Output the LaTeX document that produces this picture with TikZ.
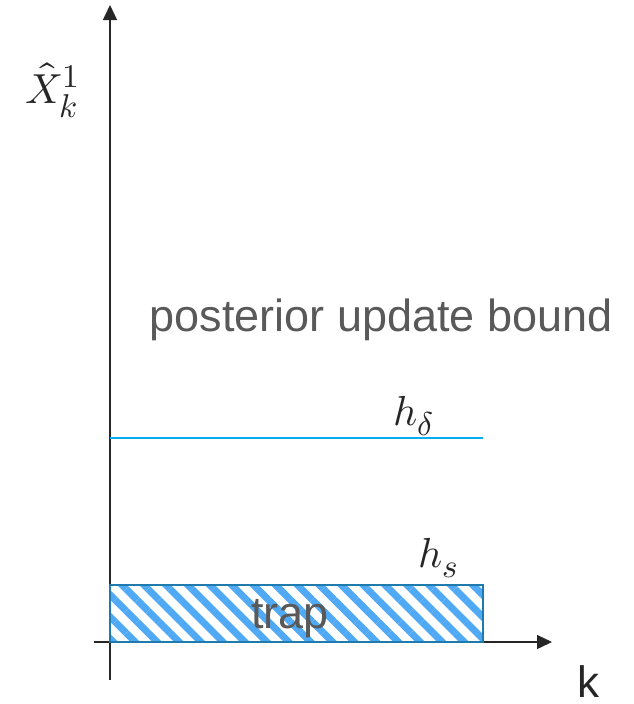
\documentclass[tikz,border=0pt]{standalone}
\usepackage{fontspec}
\usepackage{unicode-math}
\setmathfont{Latin Modern Math}
\setsansfont{Liberation Sans}
\DeclareMathSizes{42}{42}{33}{27}
\usetikzlibrary{arrows.meta,patterns.meta}
\definecolor{axisgray}{HTML}{262626}
\definecolor{textgray}{HTML}{595959}
\definecolor{deltablue}{HTML}{00B0F0}
\definecolor{trapedge}{HTML}{1F7AAE}
\definecolor{trapfill}{HTML}{4FA9F5}
\begin{document}
\begin{tikzpicture}[x=1pt,y=-1pt,
  axis/.style={draw=axisgray,line width=1.4pt,-{Triangle[length=15pt,width=14pt]}},
  sanslabel/.style={font=\sffamily\fontsize{45}{52}\selectfont,text=textgray,inner sep=0pt},
  blacklabel/.style={font=\sffamily\fontsize{44}{52}\selectfont,text=axisgray,inner sep=0pt},
  mathlabel/.style={font=\fontsize{42}{50}\selectfont,text=axisgray,inner sep=0pt,anchor=base west}]
\useasboundingbox (0,0) rectangle (634,704);
\coordinate (yb) at (110,680);
\coordinate (yt) at (110,5);
\coordinate (xl) at (94,642);
\coordinate (xr) at (552,642);
\draw[axis] (yb) -- (yt);
\draw[axis] (xl) -- (xr);
% trap box
\node[draw=trapedge,line width=2pt,outer sep=0pt,
  pattern={Lines[angle=-45,distance=15.5pt,line width=7pt]},pattern color=trapfill,
  minimum width=373pt,minimum height=57pt,inner sep=0pt] (trapbox) at (296.5,613.5) {};
\node[sanslabel,anchor=base] (trap) at (290,628) {trap};
% delta line
\coordinate (dl) at (110,438);
\coordinate (dr) at (483,438);
\draw[deltablue,line width=1.3pt] (dl) -- (dr);
% labels
\node[mathlabel] (xhat) at (25,103) {$\hat{X}_k^1$};
\node[sanslabel,anchor=base] (post) at (381,331) {posterior update bound};
\node[mathlabel] (hd) at (393,425) {$h_\delta$};
\node[mathlabel] (hs) at (418,567) {$h_s$};
\node[blacklabel,anchor=base] (k) at (588,697) {k};
\end{tikzpicture}
\end{document}
